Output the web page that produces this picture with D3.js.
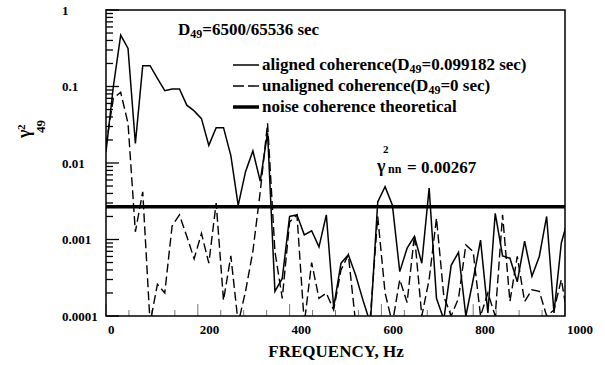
<!DOCTYPE html>
<html><head><meta charset="utf-8">
<script src="https://cdn.jsdelivr.net/npm/d3@7"></script>
<style>body{margin:0;background:#fff}svg{display:block}text{font-family:"Liberation Serif","Times New Roman",serif;font-weight:bold;fill:#000}</style>
</head><body><svg id="c" width="605" height="365"></svg>
<script>
const freqs = [0,16,32,48,64,80,96,112,128,144,160,176,192,208,224,240,256,272,288,304,320,336,352,368,384,400,416,432,448,464,480,496,512,528,544,560,576,592,608,624,640,656,672,688,704,720,736,752,768,784,800,816,832,848,864,880,896,912,928,944,960,976,992,1008];
const aligned = [0.014,0.10,0.47,0.315,0.018,0.187,0.187,0.128,0.088,0.093,0.093,0.057,0.048,0.038,0.017,0.029,0.029,0.0125,0.0028,0.0077,0.0144,0.0058,0.025,0.00021,0.00031,0.0020,0.0021,0.00115,0.0013,0.0008,0.0021,0.00013,0.00049,0.00063,0.00034,0.00016,0.00008,0.0031,0.0049,0.0028,0.00038,0.00077,0.0011,0.00049,0.0047,0.00017,0.00009,0.00046,0.00068,0.0001,0.0003,0.00098,0.00011,0.0022,0.00061,0.00057,0.00028,0.00095,0.00033,0.0006,0.0020,0.00011,0.0009,0.002];
const unaligned = [0.017,0.07,0.084,0.033,0.00126,0.0042,0.00008,0.00026,0.0002,0.0015,0.0021,0.0011,0.00056,0.0012,0.00049,0.003,0.00016,0.00061,0.00008,0.00021,0.0007,0.0042,0.033,0.0007,0.00017,0.0017,0.0021,0.00008,0.0005,0.00017,0.0002,0.00012,0.0004,0.00063,0.00008,0.00008,0.0001,0.002,0.0002,0.00008,0.0003,0.00015,0.00115,0.0001,0.0003,0.0019,0.00018,0.0001,0.00017,0.00085,0.00069,0.0001,0.0002,0.0001,0.0021,0.000155,0.0006,0.000155,0.00022,0.00021,0.0001,0.00012,0.0003,0.00008];
const noiseLevel = 0.00267;
const xTicks = [0,200,400,600,800,1000];
const xMinor = [50,100,150,250,300,350,450,500,550,650,700,750,850,900,950];
const yTicks = [1,0.1,0.01,0.001,0.0001];
const yTickLabels = ["1","0.1","0.01","0.001","0.0001"];

const FONT = "Liberation Serif, Times New Roman, serif";
const svg = d3.select("#c");
const L=106,R=565,T=10,B=316;
const x = d3.scaleLinear().domain([0,1000]).range([L,R]);
const y = d3.scaleLog().domain([1e-4,1]).range([B,T]);

svg.append("defs").append("clipPath").attr("id","pc").append("rect")
  .attr("x",L).attr("y",T).attr("width",R-L).attr("height",B-T);

// minor y ticks
const yMinor=[];
[1e-4,1e-3,1e-2,1e-1].forEach(d=>{for(let m=2;m<=9;m++) yMinor.push(d*m);});
const g = svg.append("g");
g.selectAll(".ym").data(yMinor).join("line")
  .attr("x1",L).attr("x2",L+7).attr("y1",d=>y(d)).attr("y2",d=>y(d))
  .attr("stroke","#000").attr("stroke-width",1.3);
g.selectAll(".yM").data(yTicks).join("line")
  .attr("x1",L).attr("x2",L+13).attr("y1",d=>y(d)).attr("y2",d=>y(d))
  .attr("stroke","#000").attr("stroke-width",1.3);
g.selectAll(".xm").data(xMinor).join("line")
  .attr("x1",d=>x(d)).attr("x2",d=>x(d)).attr("y1",B).attr("y2",B-6)
  .attr("stroke","#777").attr("stroke-width",1);
g.selectAll(".xM").data(xTicks).join("line")
  .attr("x1",d=>x(d)).attr("x2",d=>x(d)).attr("y1",B).attr("y2",B-12)
  .attr("stroke","#777").attr("stroke-width",1);

// tick labels
svg.selectAll(".yl").data(yTicks).join("text").attr("font-family",FONT)
  .attr("x",62).attr("y",d=>y(d)+4.5).attr("font-size",13).text((d,i)=>yTickLabels[i]);
svg.selectAll(".xl").data(xTicks).join("text").attr("font-family",FONT)
  .attr("x",d=>x(d)+2).attr("y",334).attr("font-size",13).text(d=>d);

// lines
const plot = svg.append("g").attr("clip-path","url(#pc)");
const line = d3.line().x((d,i)=>x(freqs[i])).y(d=>y(d));
plot.append("path").datum(unaligned).attr("d",line).attr("fill","none")
  .attr("stroke","#000").attr("stroke-width",1.4).attr("stroke-dasharray","9,4");
plot.append("path").datum(aligned).attr("d",line).attr("fill","none")
  .attr("stroke","#000").attr("stroke-width",1.5);
plot.append("line").attr("x1",L).attr("x2",R).attr("y1",y(noiseLevel)).attr("y2",y(noiseLevel))
  .attr("stroke","#000").attr("stroke-width",3.5);

// frame
svg.append("rect").attr("x",L).attr("y",T).attr("width",R-L).attr("height",B-T)
  .attr("fill","none").attr("stroke","#000").attr("stroke-width",1.5);

// title
const t = svg.append("text").attr("font-family",FONT).attr("x",178).attr("y",35).attr("font-size",17);
t.append("tspan").text("D");
t.append("tspan").attr("font-size",12).attr("dy",3).text("49");
t.append("tspan").attr("dy",-3).text("=6500/65536 sec");

// legend
const legend = [
  {label:["aligned coherence(D","49","=0.099182 sec)"], w:1.5, dash:null},
  {label:["unaligned coherence(D","49","=0 sec)"], w:1.4, dash:"11,4"},
  {label:["noise coherence theoretical"], w:3.5, dash:null}
];
legend.forEach((d,i)=>{
  const yy = 65 + i*21;
  svg.append("line").attr("x1",233).attr("x2",259).attr("y1",yy).attr("y2",yy)
    .attr("stroke","#000").attr("stroke-width",d.w).attr("stroke-dasharray",d.dash);
  const tx = svg.append("text").attr("font-family",FONT).attr("x",262).attr("y",yy+5).attr("font-size",17);
  tx.append("tspan").text(d.label[0]);
  if(d.label.length>1){
    tx.append("tspan").attr("font-size",12).attr("dy",3).text(d.label[1]);
    tx.append("tspan").attr("dy",-3).text(d.label[2]);
  }
});

// noise annotation
svg.append("text").attr("font-family",FONT).attr("x",377).attr("y",172).attr("font-size",18).text("γ");
svg.append("text").attr("font-family",FONT).attr("x",383).attr("y",153).attr("font-size",11).text("2");
svg.append("text").attr("font-family",FONT).attr("x",388).attr("y",173).attr("font-size",12).text("nn");
svg.append("text").attr("font-family",FONT).attr("x",407).attr("y",173).attr("font-size",17).text("= 0.00267");

// axis titles
svg.append("text").attr("font-family",FONT).attr("x",336).attr("y",357).attr("text-anchor","middle").attr("font-size",17).text("FREQUENCY, Hz");
svg.append("text").attr("font-family",FONT).attr("transform","translate(30,138) rotate(-90)").attr("font-size",18).text("γ");
svg.append("text").attr("font-family",FONT).attr("transform","translate(25,130) rotate(-90)").attr("font-size",11).text("2");
svg.append("text").attr("font-family",FONT).attr("transform","translate(45,133) rotate(-90)").attr("font-size",13).text("49");
</script></body></html>
